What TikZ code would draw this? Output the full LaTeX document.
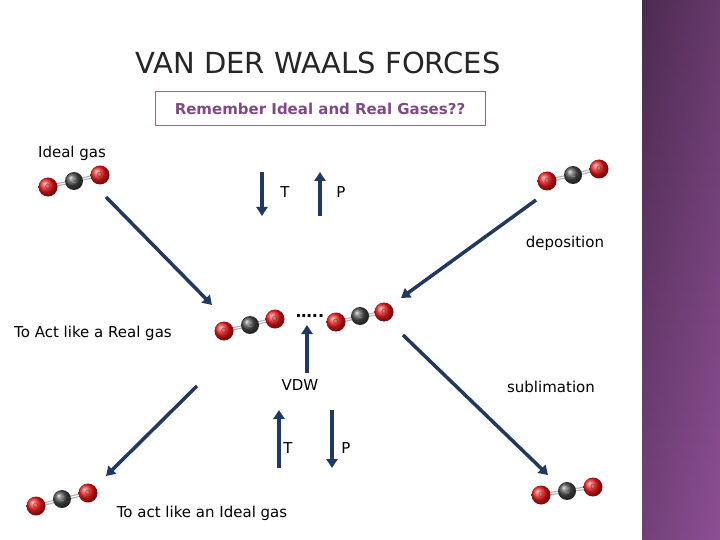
\documentclass[tikz,border=0pt]{standalone}
\usepackage{fontspec}
\setmainfont{DejaVu Sans}
\begin{document}
\begin{tikzpicture}[x=1pt,y=-1pt,
  arr/.style={draw=navy,line width=3.5pt,-{Triangle[length=9pt,width=11pt]}},
  lab/.style={font=\fontsize{15}{18}\selectfont},
  oat/.style={circle,minimum size=19pt,inner sep=0pt,ball color=red!90!white,font=\fontsize{7}{7}\selectfont,text=black!70},
  cat/.style={circle,minimum size=18pt,inner sep=0pt,ball color=black!70,font=\fontsize{7}{7}\selectfont,text=black!40},
  bond/.style={draw=gray!60,line width=1.2pt,double=white,double distance=1pt}]
\usetikzlibrary{arrows.meta}
\definecolor{navy}{HTML}{1F3864}
\definecolor{purp}{HTML}{A05AA8}
\useasboundingbox (0,0) rectangle (720,540);
\fill[white] (0,0) rectangle (720,540);
\shade[left color=purp!60!black,right color=purp] (642,0) rectangle (720,540);
\shade[top color=purp!40!black,bottom color=purp!80!black,opacity=0.6] (642,0) rectangle (720,540);
\node[font=\fontsize{29}{32}\selectfont,text=black!85] (title) at (318,63) {VAN DER WAALS FORCES};
\node[draw=purp,line width=1pt,minimum width=330pt,minimum height=34pt,text=purp!80!black,font=\fontsize{15}{18}\selectfont\bfseries] (rem) at (320,109) {Remember Ideal and Real Gases??};
% molecules
\foreach \n/\ax/\ay/\bx/\by/\cx/\cy in {m1/48/187/74/181/100/175, m2/547/181/573/175/599/169, m3/224/331/250/325/275/319, m4/336/322/360/316/384/312, m5/36/506/62/499/88/493, m6/541/495/567/491/593/487}{
  \draw[bond] (\ax,\ay) -- (\cx,\cy);
  \node[oat] (\n a) at (\ax,\ay) {O};
  \node[cat] (\n b) at (\bx,\by) {C};
  \node[oat] (\n c) at (\cx,\cy) {O};
}
\node[lab] (ideal) at (72,153) {Ideal gas};
\node[lab] (t1) at (285,192) {T};
\node[lab] (p1) at (341,192) {P};
\node[lab] (dep) at (565,243) {deposition};
\node[lab] (real) at (93,333) {To Act like a Real gas};
\node[lab,font=\fontsize{16}{18}\selectfont\bfseries] (dots) at (310,316) {\dots..};
\node[lab] (vdw) at (300,385) {VDW};
\node[lab] (sub) at (551,387) {sublimation};
\node[lab] (t2) at (288,448) {T};
\node[lab] (p2) at (346,448) {P};
\node[lab] (act) at (202,513) {To act like an Ideal gas};
\coordinate (a1s) at (106,197); \coordinate (a1e) at (212,305);
\coordinate (a2s) at (536,200); \coordinate (a2e) at (401,298);
\coordinate (a3s) at (197,386); \coordinate (a3e) at (106,476);
\coordinate (a4s) at (403,335); \coordinate (a4e) at (548,475);
\coordinate (vs) at (307,373); \coordinate (ve) at (307,325);
\coordinate (t1s) at (262,172); \coordinate (t1e) at (262,216);
\coordinate (p1s) at (320,216); \coordinate (p1e) at (320,172);
\coordinate (t2s) at (279,468); \coordinate (t2e) at (279,410);
\coordinate (p2s) at (332,410); \coordinate (p2e) at (332,468);
\foreach \s/\e in {a1s/a1e,a2s/a2e,a3s/a3e,a4s/a4e,vs/ve,t1s/t1e,p1s/p1e,t2s/t2e,p2s/p2e}
  \draw[arr] (\s) -- (\e);
\end{tikzpicture}
\end{document}
